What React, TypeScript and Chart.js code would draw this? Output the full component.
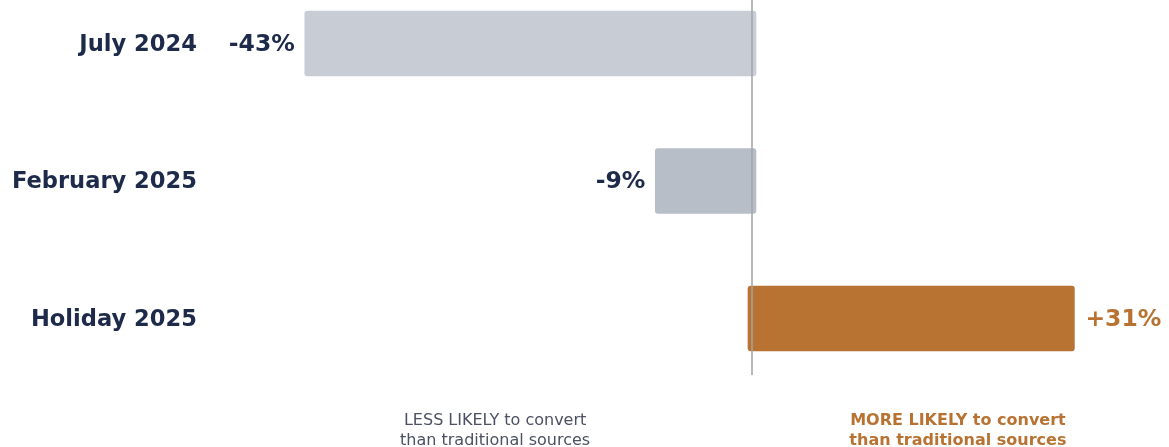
import React, { useEffect, useRef } from "react";
import { Chart, registerables } from "chart.js";

Chart.register(...registerables);

const categories = ["July 2024", "February 2025", "Holiday 2025"];
const values = [-43, -9.3, 31];
const valueLabels = ["-43%", "-9%", "+31%"];
const barColors = ["#c8ccd5", "#b8bec8", "#b87333"];
const leftNote = ["LESS LIKELY to convert", "than traditional sources"];
const rightNote = ["MORE LIKELY to convert", "than traditional sources"];

const NAVY = "#1e2a4a";
const ORANGE = "#b87333";
const GREY_TEXT = "#4b5163";
const FONT = "'DejaVu Sans', sans-serif";

export default function App() {
  const ref = useRef<HTMLCanvasElement | null>(null);

  useEffect(() => {
    if (!ref.current) return;
    const overlay = {
      id: "overlay",
      beforeDatasetsDraw(chart: any) {
        const meta = chart.getDatasetMeta(0);
        meta.data.forEach((el: any) => {
          if (el._baseAdj) return;
          if (el.x < el.base) el.base += 4;
          else el.base -= 4;
          el._baseAdj = true;
        });
      },
      afterDatasetsDraw(chart: any) {
        const ctx = chart.ctx;
        const xs = chart.scales.x;
        const zx = xs.getPixelForValue(0);
        ctx.save();
        // zero line
        ctx.strokeStyle = "#a3a3a3";
        ctx.lineWidth = 1.5;
        ctx.beginPath();
        ctx.moveTo(zx, 0);
        ctx.lineTo(zx, 375);
        ctx.stroke();
        // value labels
        const meta = chart.getDatasetMeta(0);
        ctx.font = `bold 23.5px ${FONT}`;
        ctx.textBaseline = "middle";
        meta.data.forEach((el: any, i: number) => {
          const v = values[i];
          if (v < 0) {
            ctx.fillStyle = NAVY;
            ctx.textAlign = "right";
            ctx.fillText(valueLabels[i], el.x - 10, el.y + 1);
          } else {
            ctx.fillStyle = ORANGE;
            ctx.textAlign = "left";
            ctx.fillText(valueLabels[i], el.x + 11, el.y + 1);
          }
        });
        // bottom notes
        ctx.textAlign = "center";
        ctx.font = `16px ${FONT}`;
        ctx.fillStyle = GREY_TEXT;
        const lx = xs.getPixelForValue(-24.7);
        ctx.fillText(leftNote[0], lx, 421);
        ctx.fillText(leftNote[1], lx, 441);
        ctx.font = `bold 16px ${FONT}`;
        ctx.fillStyle = ORANGE;
        const rx = xs.getPixelForValue(19.8);
        ctx.fillText(rightNote[0], rx, 421);
        ctx.fillText(rightNote[1], rx, 441);
        ctx.restore();
      },
    };

    const chart = new Chart(ref.current, {
      type: "bar",
      data: {
        labels: categories,
        datasets: [
          {
            data: values,
            backgroundColor: barColors,
            borderWidth: 0,
            borderRadius: 3,
            borderSkipped: false,
            barThickness: 65,
            clip: false,
          },
        ],
      },
      options: {
        indexAxis: "y",
        responsive: false,
        animation: false,
        events: [],
        layout: { padding: { top: 43.5, bottom: 128.5, left: 0, right: 1 } },
        plugins: {
          legend: { display: false },
          tooltip: { enabled: false },
          title: { display: false },
        },
        scales: {
          x: {
            display: false,
            min: -50,
            max: 40,
            grid: { display: false },
          },
          y: {
            offset: false,
            grid: { display: false },
            border: { display: false },
            afterFit: (s: any) => {
              s.width = 232;
              s.paddingTop = 0;
              s.paddingBottom = 0;
            },
            ticks: {
              padding: 27,
              labelOffset: 1.5,
              color: NAVY,
              font: { family: FONT, size: 22.6, weight: "bold" },
            },
          },
        },
      },
      plugins: [overlay],
    });
    return () => chart.destroy();
  }, []);

  return (
    <div style={{ position: "absolute", left: 0, top: 0, width: 1169, height: 447, background: "#fff" }}>
      <canvas ref={ref} width={1169} height={447} style={{ display: "block" }} />
    </div>
  );
}
